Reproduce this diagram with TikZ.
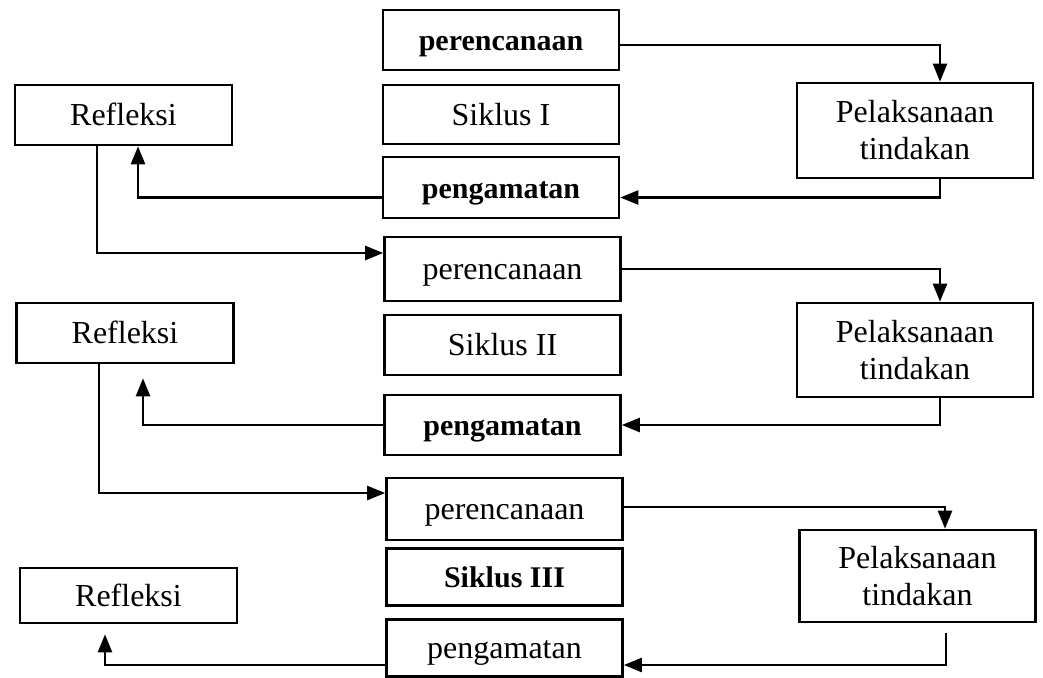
\documentclass[tikz,border=0pt]{standalone}
\usepackage{fontspec}
\setmainfont{Liberation Serif}
\usetikzlibrary{arrows.meta}

\tikzset{
  box/.style={draw, line width=2.6pt, rectangle, inner sep=0pt, align=center},
  boldtxt/.style={font=\fontsize{30}{34}\selectfont\bfseries},
  regtxt/.style={font=\fontsize{32}{36}\selectfont},
  oneline/.style={text height=21pt, text depth=0pt},
  midbox/.style={box, oneline, minimum width=236pt},
  sidebox/.style={box, oneline, minimum width=217pt},
  actbox/.style={box, minimum width=236pt, regtxt},
  arr/.style={line width=2.4pt, -{Triangle[length=18pt,width=14pt]}},
}

\begin{document}
\begin{tikzpicture}[x=1pt, y=-1pt]
\useasboundingbox[fill=white] (0,0) rectangle (1043,677);

% ---- Siklus I ----
\node[midbox, boldtxt, minimum height=60pt] (per1) at (501,40) {perencanaan};
\node[midbox, regtxt, minimum height=59pt] (sik1) at (501,114.5) {Siklus I};
\node[midbox, boldtxt, minimum height=61pt] (peng1) at (501,187.5) {pengamatan};
\node[sidebox, regtxt, minimum height=60pt] (ref1) at (123.5,115) {Refleksi};
\node[actbox, minimum height=95pt] (pel1) at (915,130.5) {Pelaksanaan\\[1pt]tindakan};

% ---- Siklus II ----
\node[midbox, regtxt, minimum height=64pt] (per2) at (502.5,269) {perencanaan};
\node[midbox, regtxt, minimum height=60pt] (sik2) at (502.5,345) {Siklus II};
\node[midbox, boldtxt, minimum height=60pt] (peng2) at (502.5,425) {pengamatan};
\node[sidebox, regtxt, minimum height=60pt] (ref2) at (125,333) {Refleksi};
\node[actbox, minimum height=94pt] (pel2) at (915,350) {Pelaksanaan\\[1pt]tindakan};

% ---- Siklus III ----
\node[midbox, regtxt, minimum height=62pt] (per3) at (504.5,509) {perencanaan};
\node[midbox, boldtxt, minimum height=57pt] (sik3) at (504.5,577) {Siklus III};
\node[midbox, regtxt, minimum height=57pt] (peng3) at (504.5,648) {pengamatan};
\node[sidebox, regtxt, minimum height=55pt] (ref3) at (128.5,595.5) {Refleksi};
\node[actbox, minimum height=92pt] (pel3) at (917.5,576) {Pelaksanaan\\[1pt]tindakan};

% ---- connectors, cycle I ----
\draw[arr] ([yshift=-5pt]per1.east) -| ([xshift=25pt]pel1.north);
\draw[arr] ([xshift=25pt]pel1.south) |- ([yshift=-10pt]peng1.east);
\draw[arr] ([yshift=-10pt]peng1.west) -| ([xshift=14.5pt]ref1.south);
\draw[arr] ([xshift=-26.5pt]ref1.south) |- ([yshift=16pt]per2.west);

% ---- connectors, cycle II ----
\coordinate (r2in) at ([xshift=18pt,yshift=-14pt]ref2.south);
\draw[arr] (per2.east) -| ([xshift=25pt]pel2.north);
\draw[arr] ([xshift=25pt]pel2.south) |- (peng2.east);
\draw[arr] (peng2.west) -| (r2in);
\draw[arr] ([xshift=-26pt]ref2.south) |- ([yshift=16pt]per3.west);

% ---- connectors, cycle III ----
\coordinate (p3out) at ([xshift=28.5pt,yshift=-10pt]pel3.south);
\coordinate (r3in) at ([xshift=-23.5pt,yshift=-10pt]ref3.south);
\draw[arr] ([yshift=2pt]per3.east) -| ([xshift=27.5pt]pel3.north);
\draw[arr] (p3out) |- ([yshift=-17pt]peng3.east);
\draw[arr] ([yshift=-17pt]peng3.west) -| (r3in);
\end{tikzpicture}
\end{document}
